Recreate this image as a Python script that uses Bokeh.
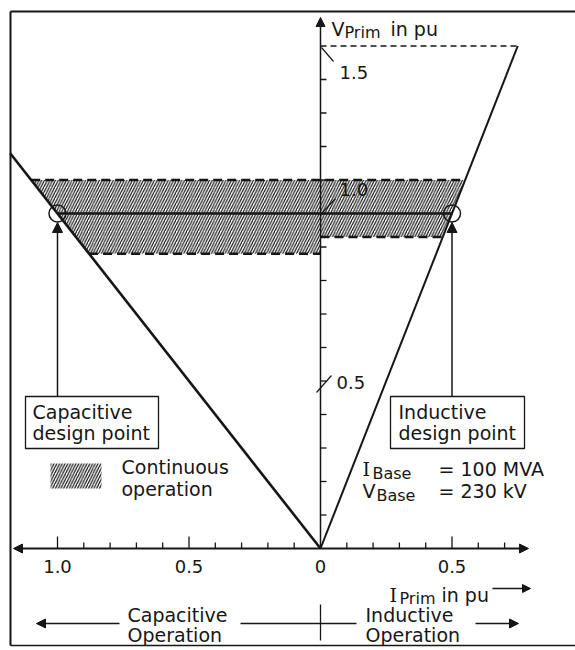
from bokeh.plotting import figure
from bokeh.models import Range1d, Arrow, NormalHead
from bokeh.embed import file_html
from bokeh.resources import INLINE
from bokeh.core.properties import value

# ---------------- data (per-unit) ----------------
cap_line_I = [0.0, -1.18]          # capacitive characteristic (I plotted to the left)
cap_line_V = [0.0, 1.18]
ind_line_I = [0.0, 0.75]           # inductive characteristic
ind_line_V = [0.0, 1.5]
design_I = [-1.0, 0.5]             # capacitive / inductive design points
design_V = [1.0, 1.0]
v_max_line = 1.5                   # 1.5 pu limit (dashed)
band_upper = 1.1                   # continuous-operation band
band_lower_cap = 0.88
band_lower_ind = 0.93

x_ticks = [-1.0, -0.9, -0.8, -0.7, -0.6, -0.5, -0.4, -0.3, -0.2, -0.1,
           0.1, 0.2, 0.3, 0.4, 0.5, 0.6, 0.7]
x_major_ticks = [-1.0, -0.5, 0.5]
x_label_pos = [-1.0, -0.5, 0.0, 0.5]
x_label_text = ["1.0", "0.5", "0", "0.5"]
y_ticks = [0.1, 0.2, 0.3, 0.4, 0.5, 0.6, 0.7, 0.8, 0.9, 1.0, 1.1, 1.2, 1.3, 1.4]
y_label_pos = [1.5, 1.0, 0.5]
y_label_text = ["1.5", "1.0", "0.5"]

# ---------------- layout helpers ----------------
W, H = 575, 650
PX_PER_I, PX_PER_V = 263.0, 335.0
OX, OY = 320.0, 548.0          # pixel position of the origin


def X(px):
    return (px - OX) / PX_PER_I


def Y(py):
    return (OY - py) / PX_PER_V


INK = "#161616"
SANS = "DejaVu Sans"
SERIF = "DejaVu Serif"

p = figure(width=W, height=H, output_backend="svg", toolbar_location=None,
           x_range=Range1d(X(0), X(W)), y_range=Range1d(Y(H), Y(0)),
           min_border=0, min_border_left=0, min_border_right=0,
           min_border_top=0, min_border_bottom=0)
p.axis.visible = False
p.grid.visible = False
p.outline_line_color = None
p.background_fill_color = "white"
p.border_fill_color = "white"

# frame (top, left, bottom)
p.line([X(10), X(580)], [Y(11), Y(11)], line_color=INK, line_width=2)
p.line([X(10), X(10)], [Y(11), Y(645)], line_color=INK, line_width=2)
p.line([X(10), X(580)], [Y(645), Y(645)], line_color=INK, line_width=1.5)

# ---------------- continuous operation band ----------------
cap_slope = cap_line_V[1] / cap_line_I[1]     # V / I on capacitive side
ind_slope = ind_line_V[1] / ind_line_I[1]
band_x = [band_upper / cap_slope, band_upper / ind_slope, band_lower_ind / ind_slope,
          0.0, 0.0, band_lower_cap / cap_slope]
band_y = [band_upper, band_upper, band_lower_ind, band_lower_ind, band_lower_cap, band_lower_cap]
p.patch(band_x, band_y, fill_color=None, line_color=None,
        hatch_pattern="/", hatch_color=INK, hatch_scale=5.5, hatch_weight=1.2)
DASH = "9 5"
p.line([band_x[0], band_x[1]], [band_upper, band_upper], line_color=INK, line_width=2.5, line_dash=DASH)
p.line([band_x[5], 0.0], [band_lower_cap, band_lower_cap], line_color=INK, line_width=2.5, line_dash=DASH)
p.line([0.0, band_x[2]], [band_lower_ind, band_lower_ind], line_color=INK, line_width=2.5, line_dash=DASH)

# 1.5 pu dashed limit
p.line([0.0, v_max_line / ind_slope], [v_max_line, v_max_line], line_color=INK, line_width=1.5, line_dash="6 4")

# characteristics
p.line(cap_line_I, cap_line_V, line_color=INK, line_width=2.6)
p.line(ind_line_I, ind_line_V, line_color=INK, line_width=2)
p.line(design_I, design_V, line_color=INK, line_width=2.5)
p.scatter(design_I, design_V, size=17, marker="circle", fill_color=None, line_color=INK, line_width=1.5)

# ---------------- axes ----------------
p.add_layout(Arrow(x_start=X(13), y_start=0, x_end=X(528), y_end=0, line_color=INK, line_width=1.8,
                   start=NormalHead(size=9, fill_color=INK, line_color=INK),
                   end=NormalHead(size=9, fill_color=INK, line_color=INK)))
p.add_layout(Arrow(x_start=0, y_start=0, x_end=0, y_end=Y(17), line_color=INK, line_width=1.5,
                   end=NormalHead(size=9, fill_color=INK, line_color=INK)))

minor_len = 6 / PX_PER_V
major_len = 12 / PX_PER_V
p.segment(x0=x_ticks, y0=[0] * len(x_ticks), x1=x_ticks,
          y1=[major_len if t in x_major_ticks else minor_len for t in x_ticks],
          line_color=INK, line_width=1.3)
p.segment(x0=[0] * len(y_ticks), y0=y_ticks, x1=[6 / PX_PER_I] * len(y_ticks), y1=y_ticks,
          line_color=INK, line_width=1.3)

p.text(x=x_label_pos, y=[Y(566)] * len(x_label_pos), text=x_label_text,
       text_font=value(SANS), text_font_size=value("18px"), text_align="center",
       text_baseline="middle", text_color=INK)

# y labels with small leaders  (label x, label y, leader from (ax, ay) to (bx, by))
lab_off = {1.5: (339, 72, 321, 47, 333, 61), 1.0: (339, 189, 322, 212, 335, 198),
           0.5: (336, 382, 316, 392, 331, 375)}
for v, t in zip(y_label_pos, y_label_text):
    lx, ly, ax, ay, bx, by = lab_off[v]
    p.text(x=[X(lx)], y=[Y(ly)], text=[t], text_font=value(SANS), text_font_size=value("18px"),
           text_align="left", text_baseline="middle", text_color=INK)
    p.line([X(ax), X(bx)], [Y(ay), Y(by)], line_color=INK, line_width=1.2)


def txt(s, px, py, size=19, font=SANS, baseline="alphabetic", align="left"):
    p.text(x=[X(px)], y=[Y(py)], text=[s], text_font=value(font), text_font_size=value(f"{size}px"),
           text_align=align, text_baseline=baseline, text_color=INK)


# axis titles
txt("V", 331, 28)
txt("Prim", 344, 32, size=16)
txt("in pu", 390, 28)

txt("I", 389, 594, font=SERIF)
txt("Prim", 399, 598, size=16)
txt("in pu", 441, 594)
p.add_layout(Arrow(x_start=X(492), y_start=Y(588), x_end=X(530), y_end=Y(588), line_color=INK,
                   line_width=1.5, end=NormalHead(size=8, fill_color=INK, line_color=INK)))

# design point boxes
p.quad(left=[X(25), X(390)], right=[X(158), X(524)], top=[Y(396), Y(396)], bottom=[Y(448), Y(448)],
       fill_color=None, line_color=INK, line_width=1.3)
txt("Capacitive", 32, 411, baseline="middle")
txt("design point", 32, 432, baseline="middle")
txt("Inductive", 398, 411, baseline="middle")
txt("design point", 398, 432, baseline="middle")
for di in design_I:
    p.add_layout(Arrow(x_start=di, y_start=Y(396), x_end=di, y_end=Y(222), line_color=INK,
                       line_width=1.5, end=NormalHead(size=10, fill_color=INK, line_color=INK)))

# legend
p.quad(left=[X(50)], right=[X(101)], top=[Y(463)], bottom=[Y(488)], fill_color=None, line_color=None,
       hatch_pattern="/", hatch_color=INK, hatch_scale=5.5, hatch_weight=1.2)
txt("Continuous", 121, 466, baseline="middle")
txt("operation", 121, 488, baseline="middle")

# base values
txt("I", 362, 468, font=SERIF)
txt("Base", 372, 473, size=16)
txt("=", 438, 468)
txt("100 MVA", 460, 468)
txt("V", 362, 490)
txt("Base", 376, 495, size=16)
txt("=", 438, 490)
txt("230 kV", 460, 490)

# operation region annotation
txt("Capacitive", 127, 614, baseline="middle")
txt("Operation", 127, 634, baseline="middle")
txt("Inductive", 365, 614, baseline="middle")
txt("Operation", 365, 634, baseline="middle")
p.add_layout(Arrow(x_start=X(119), y_start=Y(623), x_end=X(36), y_end=Y(623), line_color=INK,
                   line_width=1.5, end=NormalHead(size=9, fill_color=INK, line_color=INK)))
p.add_layout(Arrow(x_start=X(475), y_start=Y(623), x_end=X(518), y_end=Y(623), line_color=INK,
                   line_width=1.5, end=NormalHead(size=9, fill_color=INK, line_color=INK)))
p.line([X(240), X(356)], [Y(623), Y(623)], line_color=INK, line_width=1.5)
p.line([X(320), X(320)], [Y(604), Y(640)], line_color=INK, line_width=1.3)

open("out.html", "w").write(file_html(p, INLINE))
